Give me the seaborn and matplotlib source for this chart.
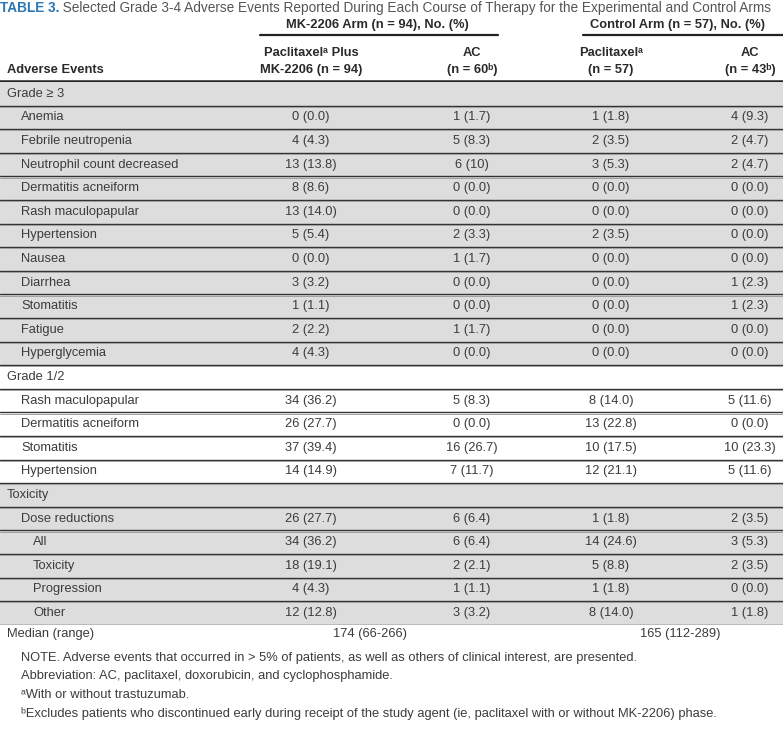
import numpy as np
import seaborn as sns
import matplotlib.pyplot as plt
from matplotlib import font_manager
from matplotlib.colors import ListedColormap

# ---- table content ----
row_labels = [
    "Grade \u2265 3", "Anemia", "Febrile neutropenia", "Neutrophil count decreased",
    "Dermatitis acneiform", "Rash maculopapular", "Hypertension", "Nausea", "Diarrhea",
    "Stomatitis", "Fatigue", "Hyperglycemia",
    "Grade 1/2", "Rash maculopapular", "Dermatitis acneiform", "Stomatitis", "Hypertension",
    "Toxicity", "Dose reductions", "All", "Toxicity", "Progression", "Other",
]
row_indent = [0, 1, 1, 1, 1, 1, 1, 1, 1, 1, 1, 1,
              0, 1, 1, 1, 1,
              0, 1, 2, 2, 2, 2]
row_band = [1] * 12 + [0] * 5 + [1] * 6

mk_paclitaxel = ["", "0 (0.0)", "4 (4.3)", "13 (13.8)", "8 (8.6)", "13 (14.0)", "5 (5.4)",
                 "0 (0.0)", "3 (3.2)", "1 (1.1)", "2 (2.2)", "4 (4.3)",
                 "", "34 (36.2)", "26 (27.7)", "37 (39.4)", "14 (14.9)",
                 "", "26 (27.7)", "34 (36.2)", "18 (19.1)", "4 (4.3)", "12 (12.8)"]
mk_ac = ["", "1 (1.7)", "5 (8.3)", "6 (10)", "0 (0.0)", "0 (0.0)", "2 (3.3)",
         "1 (1.7)", "0 (0.0)", "0 (0.0)", "1 (1.7)", "0 (0.0)",
         "", "5 (8.3)", "0 (0.0)", "16 (26.7)", "7 (11.7)",
         "", "6 (6.4)", "6 (6.4)", "2 (2.1)", "1 (1.1)", "3 (3.2)"]
ctrl_paclitaxel = ["", "1 (1.8)", "2 (3.5)", "3 (5.3)", "0 (0.0)", "0 (0.0)", "2 (3.5)",
                   "0 (0.0)", "0 (0.0)", "0 (0.0)", "0 (0.0)", "0 (0.0)",
                   "", "8 (14.0)", "13 (22.8)", "10 (17.5)", "12 (21.1)",
                   "", "1 (1.8)", "14 (24.6)", "5 (8.8)", "1 (1.8)", "8 (14.0)"]
ctrl_ac = ["", "4 (9.3)", "2 (4.7)", "2 (4.7)", "0 (0.0)", "0 (0.0)", "0 (0.0)",
           "0 (0.0)", "1 (2.3)", "1 (2.3)", "0 (0.0)", "0 (0.0)",
           "", "5 (11.6)", "0 (0.0)", "10 (23.3)", "5 (11.6)",
           "", "2 (3.5)", "3 (5.3)", "2 (3.5)", "0 (0.0)", "1 (1.8)"]

group_headers = ["MK-2206 Arm (n = 94), No. (%)", "Control Arm (n = 57), No. (%)"]
col_headers = [("Paclitaxel\u1d43 Plus", "MK-2206 (n = 94)"), ("AC", "(n = 60\u1d47)"),
               ("Paclitaxel\u1d43", "(n = 57)"), ("AC", "(n = 43\u1d47)")]
median_values = ["174 (66-266)", "165 (112-289)"]
notes = [
    "NOTE. Adverse events that occurred in > 5% of patients, as well as others of clinical interest, are presented.",
    "Abbreviation: AC, paclitaxel, doxorubicin, and cyclophosphamide.",
    "\u1d43With or without trastuzumab.",
    "\u1d47Excludes patients who discontinued early during receipt of the study agent (ie, paclitaxel with or without MK-2206) phase.",
]

# ---- fonts: a narrow face if there is one, else Liberation Sans a bit smaller ----
names = {f.name for f in font_manager.fontManager.ttflist}
if "Liberation Sans Narrow" in names:
    body_font, fs, fs_note = ["Liberation Sans Narrow", "DejaVu Sans"], 11, 10.8
else:
    body_font, fs, fs_note = ["Liberation Sans", "DejaVu Sans"], 9.3, 9.3
title_font = ["Liberation Sans", "DejaVu Sans"]

sns.set_theme(style="white")
plt.rcParams["font.family"] = body_font

W, H = 783, 733
fig = plt.figure(figsize=(W / 100, H / 100), dpi=100)
ax = fig.add_axes([0, 0, 1, 1])
ax.set_xlim(0, W)
ax.set_ylim(H, 0)
ax.axis("off")

# body rows as a one-column heatmap (grey / white bands)
top, row_h = 82, 23.6
n_rows = len(row_labels)
bax = fig.add_axes([0, 1 - (top + n_rows * row_h) / H, 1, n_rows * row_h / H])
band = np.array(row_band).reshape(-1, 1)
sns.heatmap(band, ax=bax, cmap=ListedColormap(["white", "#dddddd"]), vmin=0, vmax=1,
            cbar=False, xticklabels=False, yticklabels=False)
bax.axis("off")

txt_col = "#3c3c3c"
col_x = [311, 472, 611, 750]
indent_x = [7, 21, 33]

for i, lab in enumerate(row_labels):
    bax.text(indent_x[row_indent[i]] / W, i + 0.5, lab, ha="left", va="center",
             fontsize=fs, color=txt_col)
    for cx, col in zip(col_x, [mk_paclitaxel, mk_ac, ctrl_paclitaxel, ctrl_ac]):
        if col[i]:
            bax.text(cx / W, i + 0.5, col[i], ha="center", va="center",
                     fontsize=fs, color=txt_col)

# separators
for i in range(1, n_rows + 1):
    bax.axhline(i, color="#333333", lw=1.0)
    bax.axhline(i + 0.05, color="#a0a0a0", lw=0.7)
ax.axhline(81, color="#222222", lw=1.8)

# title
t1 = ax.text(0, 8, "TABLE 3.", ha="left", va="center", fontsize=9.8, fontweight="bold",
             color="#2a77b5", family=title_font)
ax.annotate(" Selected Grade 3-4 Adverse Events Reported During Each Course of Therapy "
            "for the Experimental and Control Arms",
            xy=(1, 0), xycoords=t1, ha="left", va="bottom", fontsize=9.8,
            color="#555555", family=title_font)

# header
hdr_col = "#2a2a2a"
ax.text(377, 25, group_headers[0], ha="center", va="center", fontsize=fs,
        fontweight="bold", color=hdr_col)
ax.text(677, 25, group_headers[1], ha="center", va="center", fontsize=fs,
        fontweight="bold", color=hdr_col)
ax.plot([260, 498], [35, 35], color="#222222", lw=1.6)
ax.plot([583, 783], [35, 35], color="#222222", lw=1.6)
for cx, (l1, l2) in zip(col_x, col_headers):
    ax.text(cx, 53, l1, ha="center", va="center", fontsize=fs, fontweight="bold", color=hdr_col)
    ax.text(cx, 70, l2, ha="center", va="center", fontsize=fs, fontweight="bold", color=hdr_col)
ax.text(7, 70, "Adverse Events", ha="left", va="center", fontsize=fs,
        fontweight="bold", color=hdr_col)

# median row
ax.text(7, 634, "Median (range)", ha="left", va="center", fontsize=fs, color=txt_col)
ax.text(370, 634, median_values[0], ha="center", va="center", fontsize=fs, color=txt_col)
ax.text(680, 634, median_values[1], ha="center", va="center", fontsize=fs, color=txt_col)

# notes
for k, note in enumerate(notes):
    ax.text(21, 658 + k * 18.5, note, ha="left", va="center", fontsize=fs_note, color=txt_col)

fig.savefig("out.png", dpi=100)
